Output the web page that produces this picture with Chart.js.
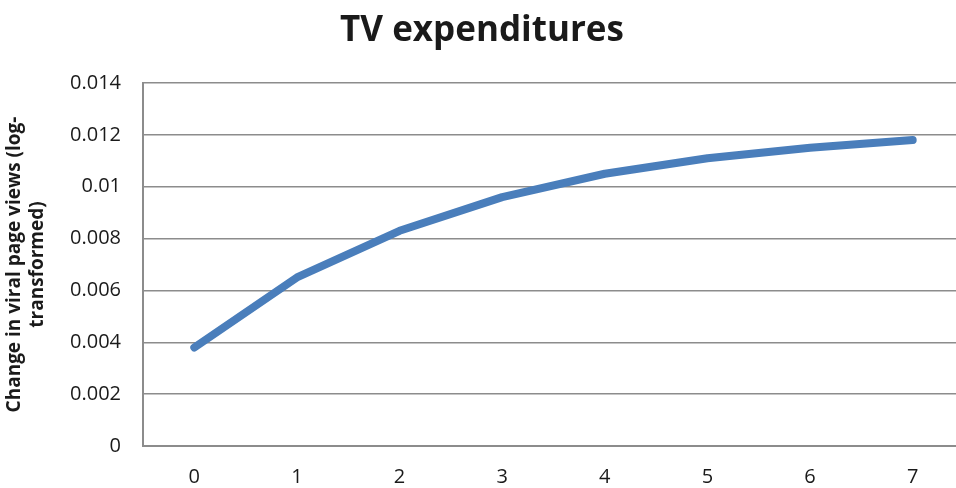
<!DOCTYPE html>
<html>
<head>
<meta charset="utf-8">
<script src="https://cdn.jsdelivr.net/npm/chart.js@4/dist/chart.umd.min.js"></script>
<style>
  html, body { margin: 0; padding: 0; background: #fff; overflow: hidden; }
  #wrap { width: 964px; height: 488px; }
</style>
</head>
<body>
<div id="wrap"><canvas id="chart"></canvas></div>
<script>
// data
const periods = ['0', '1', '2', '3', '4', '5', '6', '7'];
const viralChange = [0.0038, 0.0065, 0.0083, 0.0096, 0.0105, 0.0111, 0.0115, 0.0118];
const yTicks = [0, 0.002, 0.004, 0.006, 0.008, 0.01, 0.012, 0.014];

const gridGrey = '#8c8c8c';
const font = "'Open Sans', 'DejaVu Sans', sans-serif";

new Chart(document.getElementById('chart'), {
    type: 'line',
    data: {
        labels: periods,
        datasets: [{
            data: viralChange,
            borderColor: '#4a7ebb',
            borderWidth: 8,
            borderCapStyle: 'round',
            borderJoinStyle: 'round',
            pointRadius: 0,
            tension: 0
        }]
    },
    options: {
        responsive: true,
        maintainAspectRatio: false,
        animation: false,
        layout: { padding: 0 },
        plugins: {
            legend: { display: false },
            tooltip: { enabled: false },
            title: {
                display: true,
                text: 'TV expenditures',
                color: '#1a1a1a',
                font: { family: font, size: 35, weight: 'bold' },
                padding: { top: 10, bottom: 31 }
            }
        },
        scales: {
            x: {
                offset: true,
                grid: { display: false, drawTicks: false, offset: false },
                border: { display: true, color: gridGrey, width: 2 },
                ticks: { color: '#1a1a1a', font: { family: font, size: 20 }, padding: 19 },
                afterFit: s => { s.height = 42; }
            },
            y: {
                min: 0,
                max: 0.014,
                afterBuildTicks: s => { s.ticks = yTicks.map(v => ({ value: v })); },
                grid: { color: gridGrey, lineWidth: 1.5, drawTicks: false },
                border: { display: true, color: gridGrey, width: 2 },
                ticks: {
                    color: '#1a1a1a',
                    font: { family: font, size: 20 },
                    padding: 22,
                    callback: v => String(+v.toFixed(3))
                },
                title: {
                    display: true,
                    text: ['Change in viral page views (log-', 'transformed)'],
                    color: '#1a1a1a',
                    font: { family: font, size: 19, weight: 'bold', lineHeight: 1.2 },
                    padding: { top: 3, bottom: 4 }
                },
                afterFit: s => { s.width = 143; }
            }
        }
    }
});
</script>
</body>
</html>
